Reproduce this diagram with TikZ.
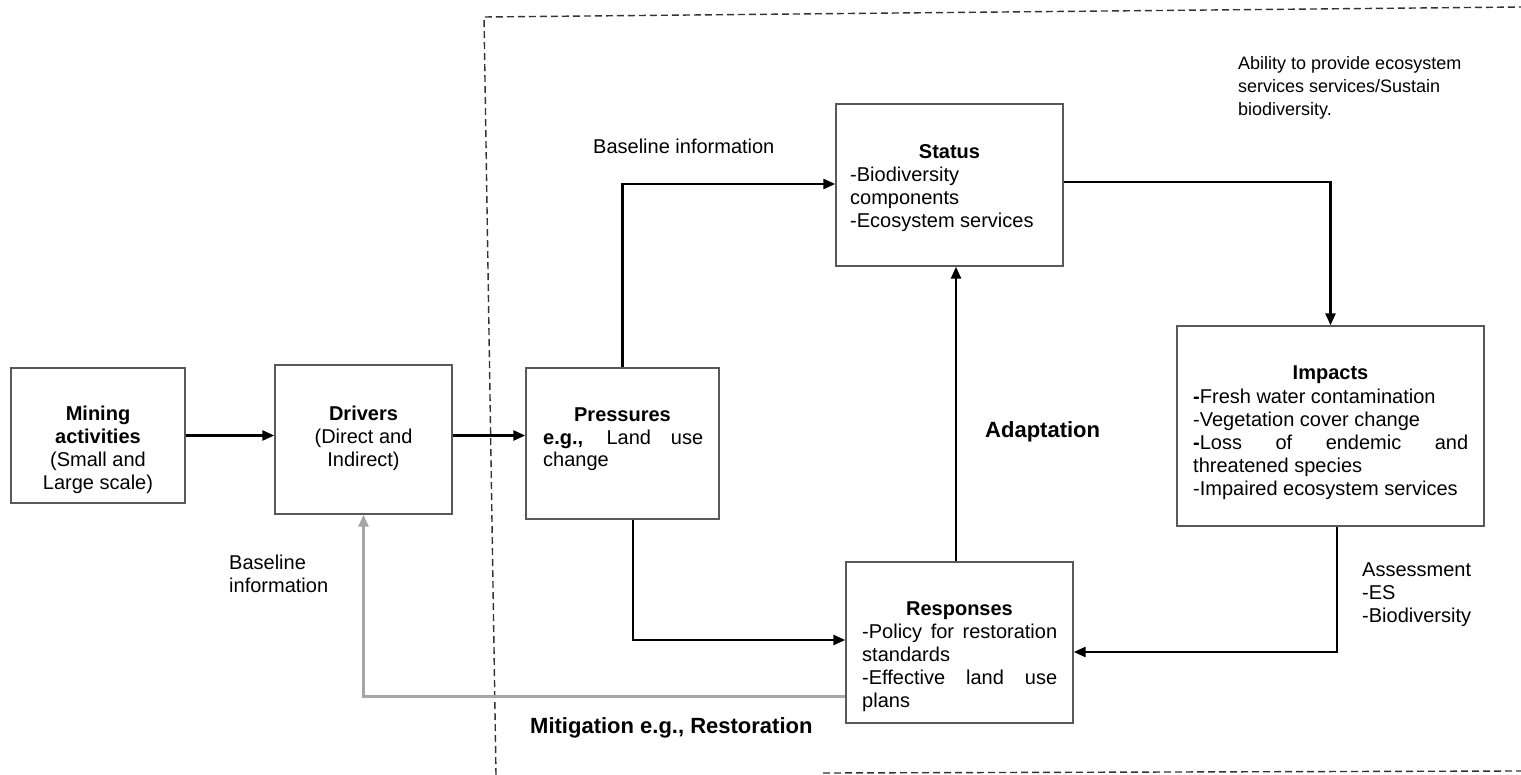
\documentclass[tikz,border=0pt]{standalone}
\usepackage{fontspec}
\setmainfont{Liberation Sans}
\usetikzlibrary{arrows.meta,calc}
\begin{document}
\begin{tikzpicture}[x=1pt,y=-1pt,
  box/.style={draw=black!65, line width=1.4pt, rectangle, inner sep=0pt},
  conn/.style={line width=2.6pt, black, -{Triangle[length=12pt,width=10pt]}},
  grayconn/.style={line width=2.6pt, black!35, -{Triangle[length=12pt,width=10pt]}},
  txt/.style={inner sep=0pt, font=\fontsize{20}{23}\selectfont},
  ctxt/.style={txt, align=center, anchor=base},
  ltxt/.style={txt, align=left, anchor=base west},
  blabel/.style={inner sep=0pt, font=\fontsize{22}{25}\selectfont\bfseries, anchor=base west},
  border/.style={line width=1.4pt, black!80, dash pattern=on 7pt off 4pt}
]
\useasboundingbox (0,0) rectangle (1521,775);
\fill[white] (0,0) rectangle (1521,775);

% dashed border
\draw[border] (496,775) -- (484,17) -- (1521,7);
\draw[border] (823,773) -- (1521,771);

% boxes
\node[box, minimum width=174pt, minimum height=135pt] (mining) at (98,435.5) {};
\node[box, minimum width=177pt, minimum height=149pt] (drivers) at (363.5,439.5) {};
\node[box, minimum width=193pt, minimum height=151pt] (pressures) at (622.5,443.5) {};
\node[box, minimum width=227pt, minimum height=162pt] (status) at (949.5,185) {};
\node[box, minimum width=307pt, minimum height=200pt] (impacts) at (1330.5,426) {};
\node[box, minimum width=227pt, minimum height=161pt] (responses) at (959.5,642.5) {};

% box texts (base anchor = baseline of the last line)
\node[ctxt] (miningtxt) at (98,489) {\textbf{Mining}\\\textbf{activities}\\(Small and\\Large scale)};
\node[ctxt] (driverstxt) at (363.5,466) {\textbf{Drivers}\\(Direct and\\Indirect)};
\node[ctxt] (pressurestitle) at (622.5,421) {\textbf{Pressures}};
\node[ltxt] (pressurestxt) at (543,467) {\makebox[160pt][s]{\textbf{e.g.,} Land use}\\change};
\node[ctxt] (statustitle) at (949.5,159) {\textbf{Status}};
\node[ltxt] (statustxt) at (850,228) {-Biodiversity\\components\\-Ecosystem services};
\node[ctxt] (impactstitle) at (1330.5,380) {\textbf{Impacts}};
\node[ltxt] (impactstxt) at (1193,495) {\textbf{-}Fresh water contamination\\-Vegetation cover change\\\makebox[275pt][s]{\textbf{-}Loss of endemic and}\\threatened species\\-Impaired ecosystem services};
\node[ctxt] (responsestitle) at (959.5,615) {\textbf{Responses}};
\node[ltxt] (responsestxt) at (862,707) {\makebox[195pt][s]{-Policy for restoration}\\standards\\\makebox[195pt][s]{-Effective land use}\\plans};

% free labels
\node[ltxt] (baseline1) at (593,154) {Baseline information};
\node[ltxt] (baseline2) at (229,592) {Baseline\\information};
\node[ltxt, font=\fontsize{18}{23}\selectfont] (ability) at (1238,116) {Ability to provide ecosystem\\services services/Sustain\\biodiversity.};
\node[ltxt] (assessment) at (1362,622) {Assessment\\-ES\\-Biodiversity};
\node[blabel] (adaptation) at (985,438) {Adaptation};
\node[blabel] (mitigation) at (530,733) {Mitigation e.g., Restoration};

% connectors
\draw[conn] (mining.east) -- (mining.east -| drivers.west);
\draw[conn] (drivers.east |- mining.east) -- (pressures.west |- mining.east);
\draw[conn] (pressures.north) |- ([yshift=1pt]status.west);
\draw[conn] ([yshift=3pt]status.east) -| (impacts.north);
\draw[conn] ([xshift=6.5pt]impacts.south) |- ([yshift=-9.5pt]responses.east);
\draw[conn] ([xshift=10.5pt]pressures.south) |- ([yshift=2.5pt]responses.west);
\draw[conn] ([xshift=-3.5pt]responses.north) -- ([xshift=-3.5pt]responses.north |- status.south);
\draw[grayconn] ([yshift=-54pt]responses.west) -| (drivers.south);
\end{tikzpicture}
\end{document}
